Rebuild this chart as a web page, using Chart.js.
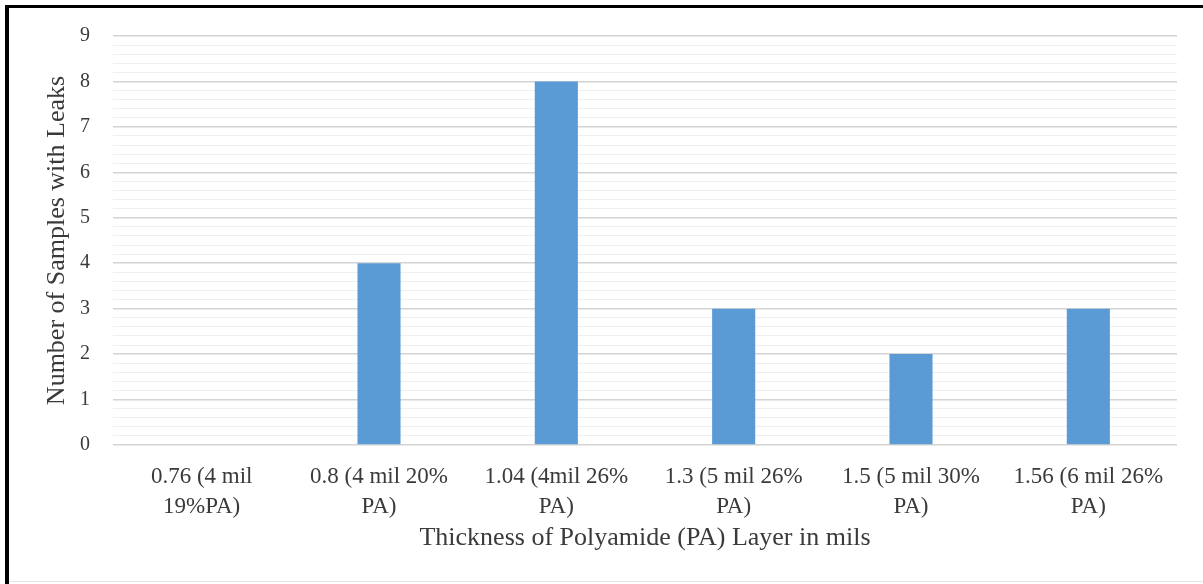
<!DOCTYPE html>
<html>
<head>
<meta charset="utf-8">
<script src="https://cdn.jsdelivr.net/npm/chart.js@4/dist/chart.umd.min.js"></script>
<style>
    html, body { margin: 0; padding: 0; background: #ffffff; }
    #chart { display: block; }
</style>
</head>
<body>
<canvas id="chart" width="1203" height="584"></canvas>
<script>
// thickness categories (two lines each) and leak counts
const categories = [
    ["0.76 (4 mil", "19%PA)"],
    ["0.8 (4 mil 20%", "PA)"],
    ["1.04 (4mil 26%", "PA)"],
    ["1.3 (5 mil 26%", "PA)"],
    ["1.5 (5 mil 30%", "PA)"],
    ["1.56 (6 mil 26%", "PA)"]
];
const leaks = [0, 4, 8, 3, 2, 3];
const yMax = 9;
const yStep = 0.2;

const TEXT = "#3a3a3a";
const SERIF = "'Liberation Serif', 'Times New Roman', serif";

function isWhole(v) {
    return Math.abs(v - Math.round(v)) < 1e-6;
}

// white page with the black frame on the top and left edges
const framePlugin = {
    id: "frame",
    beforeDraw(chart) {
        const ctx = chart.ctx;
        ctx.save();
        ctx.fillStyle = "#ffffff";
        ctx.fillRect(0, 0, chart.width, chart.height);
        ctx.restore();
    },
    afterDraw(chart) {
        const ctx = chart.ctx;
        ctx.save();
        ctx.fillStyle = "#000000";
        ctx.fillRect(5, 5, chart.width - 5, 3);
        ctx.fillRect(5, 5, 4, chart.height - 5);
        ctx.fillStyle = "#e4e4e4";
        ctx.fillRect(9, 581, chart.width - 9, 1);
        ctx.restore();
    }
};

const ctx = document.getElementById("chart").getContext("2d");

new Chart(ctx, {
    type: "bar",
    data: {
        labels: categories,
        datasets: [{
            data: leaks,
            backgroundColor: "#5b9bd5",
            borderWidth: 0,
            categoryPercentage: 0.243,
            barPercentage: 1
        }]
    },
    options: {
        responsive: false,
        animation: false,
        layout: {
            padding: { left: 10, right: 26, top: 36, bottom: 0 }
        },
        plugins: {
            legend: { display: false },
            tooltip: { enabled: false }
        },
        scales: {
            x: {
                grid: { display: false, drawTicks: false },
                border: { display: false },
                ticks: {
                    color: TEXT,
                    font: { family: SERIF, size: 23, lineHeight: 1.3 },
                    padding: 17,
                    maxRotation: 0,
                    autoSkip: false
                },
                title: {
                    display: true,
                    text: "Thickness of Polyamide (PA) Layer in mils",
                    color: TEXT,
                    font: { family: SERIF, size: 26 },
                    padding: { top: 0, bottom: 30 }
                },
                afterFit(scale) { scale.height = 139; }
            },
            y: {
                min: 0,
                max: yMax,
                grid: {
                    drawTicks: false,
                    color: c => isWhole(c.tick.value) ? "#d4d4d4" : "#efefef",
                    lineWidth: c => isWhole(c.tick.value) ? 1.6 : 1
                },
                border: { display: false },
                ticks: {
                    stepSize: yStep,
                    maxTicksLimit: 100,
                    autoSkip: false,
                    color: TEXT,
                    font: { family: SERIF, size: 20 },
                    padding: 23,
                    callback: v => isWhole(v) ? Math.round(v) : ""
                },
                title: {
                    display: true,
                    text: "Number of Samples with Leaks",
                    color: TEXT,
                    font: { family: SERIF, size: 26 },
                    padding: { top: 32, bottom: 0 }
                },
                afterFit(scale) { scale.width = 103; }
            }
        }
    },
    plugins: [framePlugin]
});
</script>
</body>
</html>
